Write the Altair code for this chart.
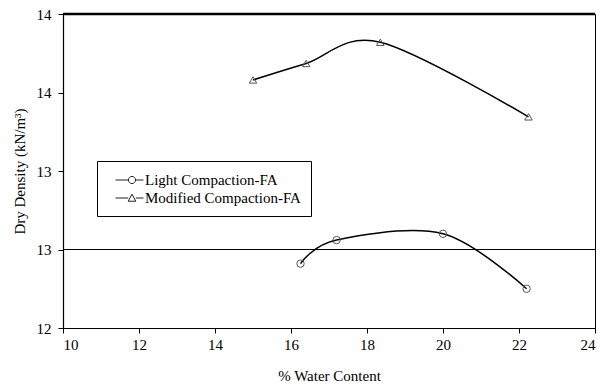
import altair as alt
import pandas as pd

light_x = [16.25, 17.2, 20.0, 22.2]
light_y = [12.41, 12.56, 12.60, 12.25]
mod_x = [15.0, 16.4, 18.35, 22.25]
mod_y = [13.58, 13.685, 13.82, 13.345]
series_names = ["Light Compaction-FA", "Modified Compaction-FA"]
x_ticks = [10, 12, 14, 16, 18, 20, 22, 24]
y_ticks = [12, 12.5, 13, 13.5, 14]
ref_line = 12.5

df = pd.DataFrame({
    "x": light_x + mod_x,
    "y": light_y + mod_y,
    "series": [series_names[0]] * len(light_x) + [series_names[1]] * len(mod_x),
})

FONT = "Liberation Serif"

x_enc = alt.X("x:Q", scale=alt.Scale(domain=[10, 24], nice=False, zero=False),
              axis=alt.Axis(values=x_ticks, title="% Water Content", grid=False,
                            tickSize=5, labelPadding=4, titlePadding=16))
y_enc = alt.Y("y:Q", scale=alt.Scale(domain=[12, 14], nice=False, zero=False),
              axis=alt.Axis(values=y_ticks, format=".0f", title="Dry Density (kN/m³)",
                            grid=False, tickSize=5, labelPadding=7, titlePadding=9))

circle_leg = ("M-0.06,0L1.46,0M2.3,0L3.23,0"
              "M1.46,0A0.42,0.42 0 1,1 2.3,0A0.42,0.42 0 1,1 1.46,0Z")
tri_leg = ("M-0.06,0L1.43,0M2.33,0L3.23,0"
           "M1.43,0.38L2.33,0.38L1.88,-0.45Z")

lines = alt.Chart(df).mark_line(interpolate="cardinal", color="black", strokeWidth=1.5).encode(
    x=x_enc, y=y_enc, detail="series:N"
)

points = alt.Chart(df).mark_point(filled=False, size=55, color="#555555", strokeWidth=1, opacity=1).encode(
    x="x:Q", y="y:Q",
    shape=alt.Shape("series:N", scale=alt.Scale(domain=series_names, range=["circle", "triangle-up"]),
                    legend=None),
)

legend_carrier = alt.Chart(df).mark_point(filled=False, opacity=0, color="black").encode(
    x="x:Q", y="y:Q",
    shape=alt.Shape("series:N", scale=alt.Scale(domain=series_names, range=[circle_leg, tri_leg]),
                    legend=alt.Legend(title=None, orient="none", legendX=34, legendY=147,
                                      symbolSize=289, symbolOpacity=1, symbolStrokeColor="#222222",
                                      symbolFillColor="transparent", symbolStrokeWidth=1,
                                      labelFont=FONT, labelFontSize=15, labelColor="black",
                                      rowPadding=1, padding=10, strokeColor="black",
                                      fillColor="white", labelOffset=20)),
)

hline = alt.Chart(pd.DataFrame({"v": [ref_line]})).mark_rule(color="black", strokeWidth=1).encode(
    y="v:Q"
)
topline = alt.Chart(pd.DataFrame({"v": [14]})).mark_rule(color="black", strokeWidth=2.5).encode(
    y="v:Q"
)

chart = alt.layer(hline, topline, lines, points, legend_carrier).resolve_scale(shape="independent").properties(
    width=532, height=314,
    autosize=alt.AutoSizeParams(type="none"),
    padding={"left": 55, "top": 6, "right": 1, "bottom": 58},
    background="white",
).configure_view(stroke="black", strokeWidth=1).configure_axis(
    domainColor="black", tickColor="black", labelFont=FONT, titleFont=FONT,
    labelFontSize=15, titleFontSize=15, labelColor="black", titleColor="black",
    titleFontWeight="normal", domainWidth=1.2,
)

chart.save("out.html", embed_options={"renderer": "svg", "actions": False})
